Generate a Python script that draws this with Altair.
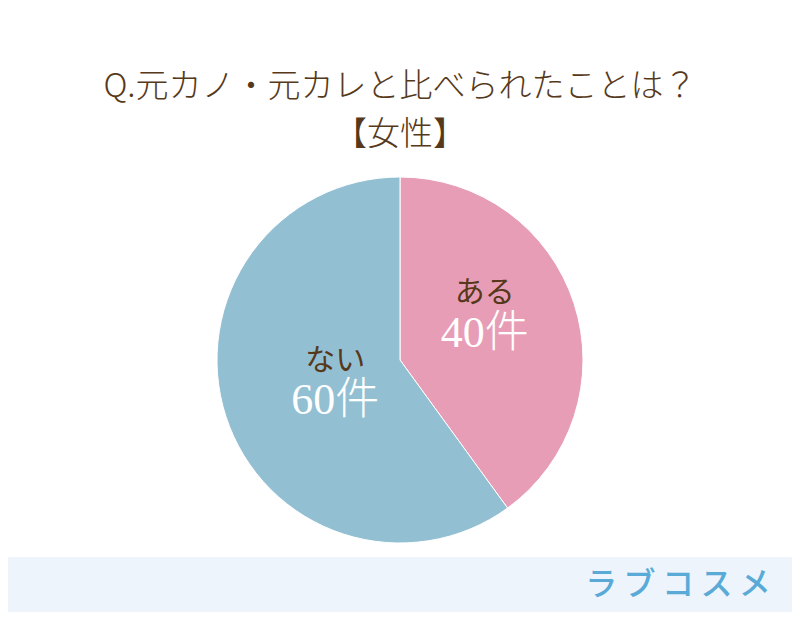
import altair as alt
import pandas as pd

# ---- data ----
labels = ["ある", "ない"]
counts = [40, 60]
count_labels = ["40件", "60件"]
orders = [0, 1]

title_lines = ["Q.元カノ・元カレと比べられたことは？", "【女性】"]
logo_text = ["ラ\u2009ブ\u2009コ\u2009ス\u2009メ"]

# ---- style ----
PINK = "#e89db6"
BLUE = "#93bfd3"
BROWN = "#56391a"
FOOTER = "#edf4fb"
LOGO = "#5aaad8"
JP = "Noto Sans CJK JP"
SERIF_JP = "Liberation Serif, Noto Sans CJK JP"

W, H = 784, 604
CX, CY = 392, 352
R = 183

df = pd.DataFrame({"label": labels, "count": counts,
                   "count_label": count_labels, "order": orders})
base = alt.Chart(df)
theta_scale = alt.Scale(domain=[0, sum(counts)])

footer = alt.Chart(pd.DataFrame({"a": [0]})).mark_rect(color=FOOTER).encode(
    x=alt.value(0), x2=alt.value(W), y=alt.value(549), y2=alt.value(H)
)

pie = base.mark_arc(radius=R, stroke="white", strokeWidth=1).encode(
    theta=alt.Theta("count:Q", stack=True, scale=theta_scale),
    color=alt.Color("label:N", scale=alt.Scale(domain=labels, range=[PINK, BLUE]), legend=None),
    order=alt.Order("order:Q"),
    x=alt.value(CX), y=alt.value(CY),
)


def label_layer(lbl, field, r, dy, size, color, font, weight):
    return (
        base.transform_window(cum="sum(count)", sort=[alt.SortField("order")])
        .transform_calculate(mid="datum.cum - datum.count / 2")
        .transform_filter(alt.datum.label == lbl)
        .mark_text(radius=r, dy=dy, fontSize=size, color=color, font=font,
                   fontWeight=weight, align="center", baseline="middle")
        .encode(theta=alt.Theta("mid:Q", stack=None, scale=theta_scale),
                text=alt.Text(f"{field}:N"),
                x=alt.value(CX), y=alt.value(CY))
    )


texts = [
    label_layer("ある", "label", 89, -39, 30, BROWN, JP, 400),
    label_layer("ある", "count_label", 89, 2, 44, "white", SERIF_JP, 300),
    label_layer("ない", "label", 68, -20, 30, BROWN, JP, 400),
    label_layer("ない", "count_label", 68, 20, 44, "white", SERIF_JP, 300),
]

title1 = alt.Chart(pd.DataFrame({"t": [title_lines[0]]})).mark_text(
    fontSize=33, color=BROWN, font=JP, fontWeight=300,
    align="center", baseline="middle"
).encode(text="t:N", x=alt.value(W / 2), y=alt.value(79))

title2 = alt.Chart(pd.DataFrame({"t": [title_lines[1]]})).mark_text(
    fontSize=33, color=BROWN, font=JP, fontWeight=300,
    align="center", baseline="middle"
).encode(text="t:N", x=alt.value(W / 2), y=alt.value(127))

logo = alt.Chart(pd.DataFrame({"t": logo_text})).mark_text(
    fontSize=32, color=LOGO, font=JP, fontWeight=500, align="center", baseline="middle"
).encode(text="t:N", x=alt.value(670), y=alt.value(577))

chart = alt.layer(footer, pie, *texts, title1, title2, logo).properties(
    width=W, height=H,
    autosize=alt.AutoSizeParams(type="fit", contains="padding"),
    padding=0,
    background="white",
).configure_view(stroke=None)

chart.save("out.html", embed_options={"renderer": "svg", "actions": False})
